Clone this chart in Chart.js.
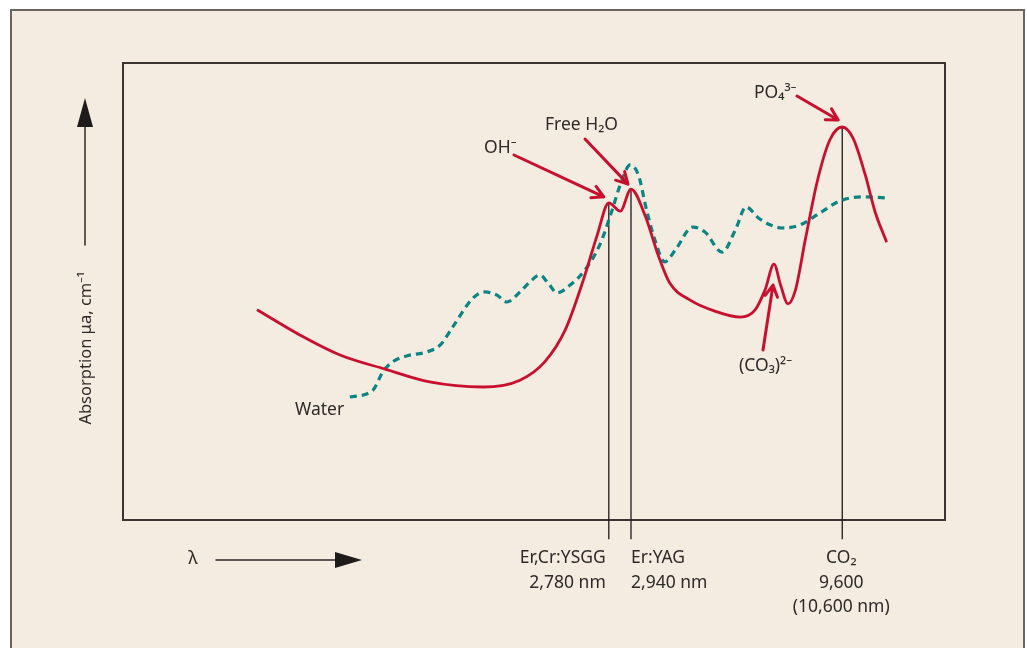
<!DOCTYPE html>
<html>
<head>
<meta charset="utf-8">
<script src="https://cdn.jsdelivr.net/npm/chart.js@4"></script>
<style>
    html, body { margin: 0; padding: 0; background: #ffffff; overflow: hidden; }
    .frame {
        position: absolute; left: 10px; top: 9px; width: 1011px; height: 660px;
        background: #f4ebe1; border: 2px solid #6b6560; border-bottom: none;
    }
    #chart { position: absolute; left: 0; top: 0; }
</style>
</head>
<body>
<div class="frame"></div>
<canvas id="chart" width="1027" height="648"></canvas>
<script>
// Relative wavelength (0-100 across the plot box) and relative absorption (0-100)
const boneX = [16.3, 21.5, 26.4, 31.9, 37.3, 43.8, 48.3, 51.3, 53.8, 56.0, 57.7, 59.1, 60.5, 61.8, 63.5, 65.1, 66.5, 69.0, 72.0, 75.1, 76.9, 78.1, 79.2, 80.0, 80.9, 81.8, 83.0, 84.5, 86.0, 87.5, 88.8, 90.3, 91.5, 92.9];
const boneY = [46.0, 40.5, 36.1, 33.0, 30.2, 29.1, 30.6, 34.6, 41.6, 52.5, 62.4, 69.4, 67.6, 72.4, 66.7, 58.0, 51.9, 48.1, 45.7, 44.4, 46.0, 50.3, 56.0, 51.4, 47.3, 50.3, 61.3, 74.4, 83.2, 86.0, 83.6, 75.5, 67.4, 60.8];

const waterX = [27.6, 30.4, 31.6, 32.8, 34.5, 37.0, 38.6, 40.1, 42.6, 44.0, 45.5, 46.7, 48.3, 49.5, 50.7, 51.7, 52.8, 54.4, 56.2, 58.0, 59.5, 60.7, 61.7, 62.7, 63.7, 64.7, 65.9, 67.2, 69.3, 70.8, 72.9, 74.5, 75.8, 77.3, 78.7, 80.2, 82.4, 84.8, 87.2, 90.0, 92.7];
const waterY = [26.9, 28.4, 32.4, 34.6, 35.9, 36.8, 38.3, 42.2, 48.6, 49.9, 49.2, 47.7, 49.9, 52.1, 53.6, 51.9, 49.7, 51.4, 54.7, 60.2, 67.8, 74.4, 77.7, 75.5, 67.8, 61.3, 56.5, 59.1, 64.1, 63.0, 58.6, 63.5, 68.5, 66.1, 64.6, 63.9, 64.6, 67.2, 69.8, 70.7, 70.5];

// Laser wavelengths marked on the axis
const laserX = [59.1, 61.8, 87.5];
const laserTop = [69.4, 72.4, 86.0];
const laserLabels = [
    ['Er,Cr:YSGG', '2,780 nm'],
    ['Er:YAG', '2,940 nm'],
    ['CO\u2082', '9,600', '(10,600 nm)']
];

const RED = '#c8102e';
const TEAL = '#0b8584';
const INK = '#2e2a28';
const FONT = '"Noto Sans", "DejaVu Sans", sans-serif';

function drawChevron(ctx, x1, y1, x2, y2) {
    const ang = Math.atan2(y2 - y1, x2 - x1);
    const len = 13, spread = 0.5;
    ctx.beginPath();
    ctx.moveTo(x1, y1);
    ctx.lineTo(x2, y2);
    ctx.moveTo(x2 - len * Math.cos(ang - spread), y2 - len * Math.sin(ang - spread));
    ctx.lineTo(x2, y2);
    ctx.lineTo(x2 - len * Math.cos(ang + spread), y2 - len * Math.sin(ang + spread));
    ctx.stroke();
}

const decorPlugin = {
    id: 'decor',
    beforeDatasetsDraw(chart) {
        const { ctx, chartArea: a } = chart;
        ctx.save();
        ctx.strokeStyle = '#3a3533';
        ctx.lineWidth = 2;
        ctx.strokeRect(a.left, a.top, a.right - a.left, a.bottom - a.top);
        ctx.restore();
    },
    afterDatasetsDraw(chart) {
        const { ctx, scales: { x, y } } = chart;
        ctx.save();
        ctx.fillStyle = INK;
        ctx.font = '17.5px ' + FONT;
        ctx.textBaseline = 'middle';

        // laser labels under the axis
        const rowY = [558, 583, 607];
        laserLabels.forEach((lines, i) => {
            const px = x.getPixelForValue(laserX[i]);
            lines.forEach((t, j) => {
                if (i === 0) { ctx.textAlign = 'right'; ctx.fillText(t, px - 3, rowY[j]); }
                else if (i === 1) { ctx.textAlign = 'left'; ctx.fillText(t, px, rowY[j]); }
                else { ctx.textAlign = 'center'; ctx.fillText(t, px - 1, rowY[j]); }
            });
        });

        // peak annotations
        ctx.textAlign = 'left';
        ctx.fillText('OH\u207B', 484, 148);
        ctx.fillText('Free H\u2082O', 545, 125);
        ctx.fillText('PO\u2084\u00B3\u207B', 754, 93);
        ctx.fillText('(CO\u2083)\u00B2\u207B', 739, 366);
        ctx.fillText('Water', 295, 410);

        ctx.strokeStyle = RED;
        ctx.lineWidth = 3;
        ctx.lineCap = 'round';
        ctx.lineJoin = 'round';
        drawChevron(ctx, 514, 155, x.getPixelForValue(laserX[0]) - 5, y.getPixelForValue(laserTop[0]) - 6);
        drawChevron(ctx, 585, 139, x.getPixelForValue(laserX[1]) - 3, y.getPixelForValue(laserTop[1]) - 5);
        drawChevron(ctx, 797, 96, x.getPixelForValue(laserX[2]) - 4, y.getPixelForValue(laserTop[2]) - 7);
        drawChevron(ctx, 763, 350, x.getPixelForValue(79.2) - 1, y.getPixelForValue(56.0) + 21);

        // y axis arrow and title
        ctx.strokeStyle = INK;
        ctx.fillStyle = '#1e1b1a';
        ctx.lineWidth = 1.5;
        ctx.beginPath();
        ctx.moveTo(85, 245); ctx.lineTo(85, 120); ctx.stroke();
        ctx.beginPath();
        ctx.moveTo(85, 98); ctx.lineTo(93, 127); ctx.lineTo(77, 127); ctx.closePath(); ctx.fill();

        ctx.save();
        ctx.translate(86, 348);
        ctx.rotate(-Math.PI / 2);
        ctx.textAlign = 'center';
        ctx.fillStyle = INK;
        ctx.font = '16.5px ' + FONT;
        ctx.fillText('Absorption \u03BCa, cm\u207B\u00B9', 0, 0);
        ctx.restore();

        // x axis arrow and lambda
        ctx.beginPath();
        ctx.moveTo(216, 560); ctx.lineTo(340, 560); ctx.stroke();
        ctx.beginPath();
        ctx.moveTo(362, 560); ctx.lineTo(335, 552); ctx.lineTo(335, 568); ctx.closePath(); ctx.fill();
        ctx.fillStyle = INK;
        ctx.textAlign = 'center';
        ctx.font = '18px ' + FONT;
        ctx.fillText('\u03BB', 193, 559);

        ctx.restore();
    }
};

const laserSets = laserX.map((lx, i) => ({
    label: laserLabels[i][0],
    data: [{ x: lx, y: laserTop[i] }, { x: lx, y: -4.2 }],
    borderColor: '#1e1b1a',
    borderWidth: 1.3,
    pointRadius: 0,
    clip: false,
    order: 3
}));

new Chart(document.getElementById('chart').getContext('2d'), {
    type: 'line',
    data: {
        datasets: [
            {
                label: 'Bone',
                data: boneX.map((v, i) => ({ x: v, y: boneY[i] })),
                borderColor: RED,
                borderWidth: 2.8,
                pointRadius: 0,
                cubicInterpolationMode: 'monotone',
                order: 1
            },
            {
                label: 'Water',
                data: waterX.map((v, i) => ({ x: v, y: waterY[i] })),
                borderColor: TEAL,
                borderWidth: 3.2,
                borderDash: [7, 5],
                pointRadius: 0,
                cubicInterpolationMode: 'monotone',
                order: 2
            },
            ...laserSets
        ]
    },
    options: {
        responsive: false,
        animation: false,
        layout: { padding: { left: 123, top: 63, right: 82, bottom: 128 } },
        scales: {
            x: { type: 'linear', min: 0, max: 100, display: false },
            y: { type: 'linear', min: 0, max: 100, display: false }
        },
        plugins: {
            legend: { display: false },
            tooltip: { enabled: false }
        }
    },
    plugins: [decorPlugin]
});
</script>
</body>
</html>
